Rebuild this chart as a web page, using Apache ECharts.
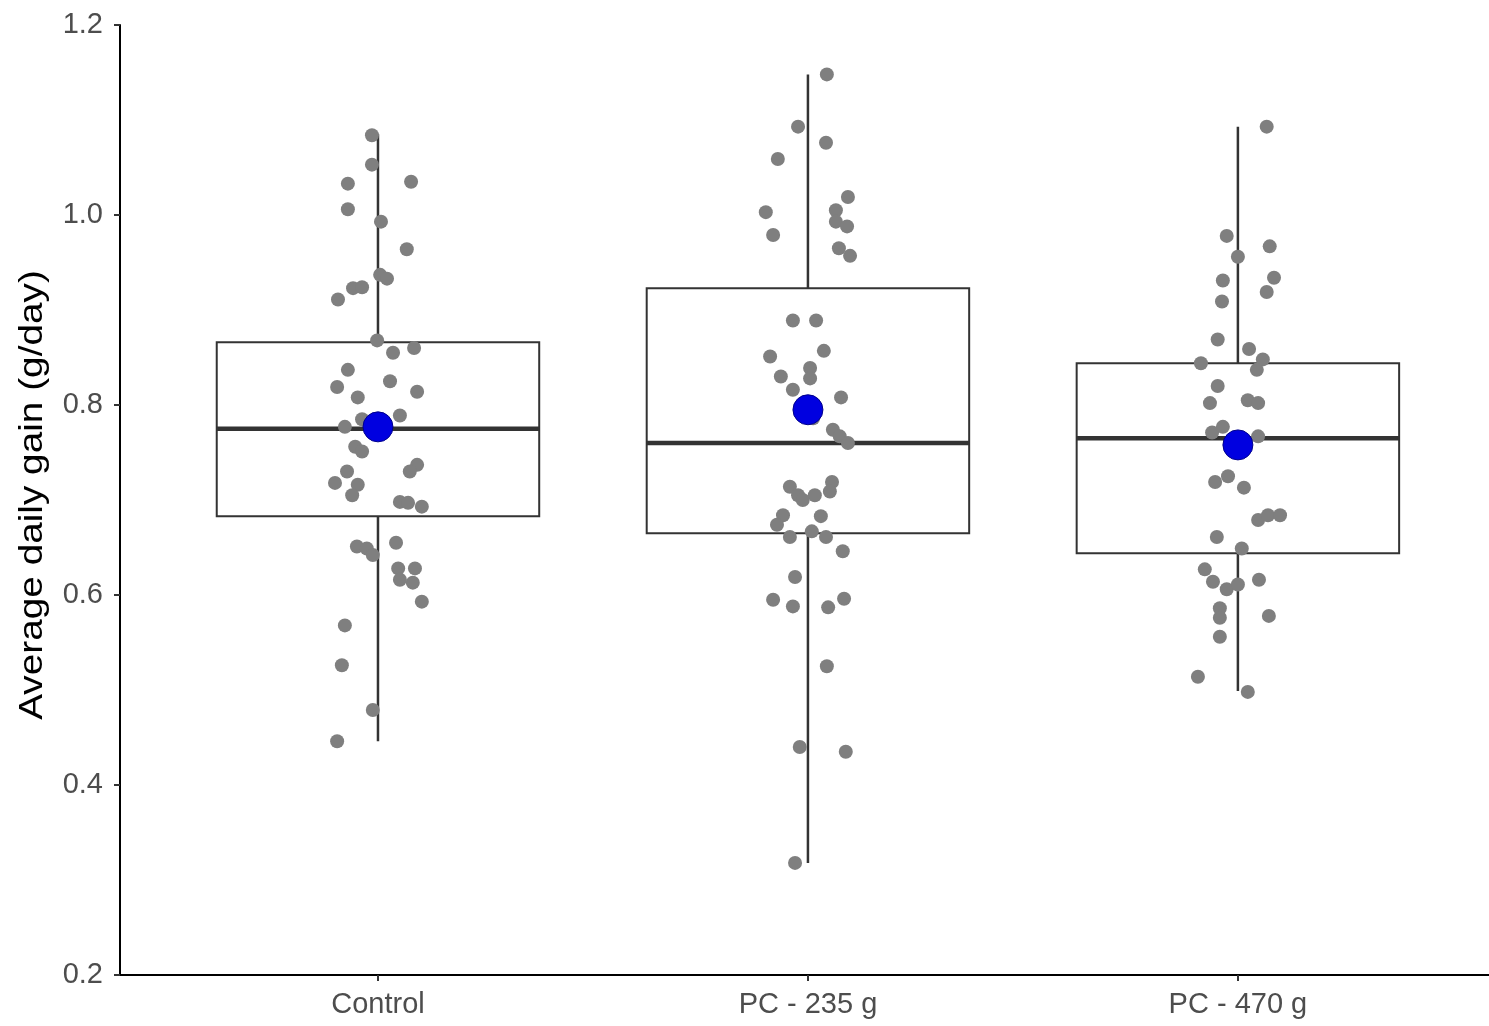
<!DOCTYPE html>
<html>
<head>
<meta charset="utf-8">
<script src="https://cdn.jsdelivr.net/npm/echarts@6/dist/echarts.min.js"></script>
<style>html,body{margin:0;padding:0;background:#fff}#c{width:1489px;height:1026px}</style>
</head>
<body>
<div id="c"></div>
<script>
var categories = ['Control', 'PC - 235 g', 'PC - 470 g'];
var yTicks = [0.2, 0.4, 0.6, 0.8, 1.0, 1.2];
// box stats per group: [min, q1, median, q3, max]
var boxControl = [0.446, 0.683, 0.775, 0.866, 1.085];
var box235 = [0.318, 0.665, 0.760, 0.923, 1.148];
var box470 = [0.499, 0.644, 0.765, 0.844, 1.093];
var means = [0.777, 0.795, 0.758];
// jittered observations: horizontal jitter (category units) and value
var controlJit = [-0.014,-0.014,-0.070,0.077,-0.070,0.007,0.067,0.005,0.021,-0.058,-0.037,-0.093,-0.002,0.035,0.084,-0.070,-0.095,0.028,0.091,-0.047,0.051,-0.037,-0.077,-0.053,-0.037,-0.072,-0.100,-0.047,-0.060,0.091,0.074,0.051,0.070,0.102,-0.049,-0.026,-0.012,0.042,0.047,0.086,0.051,0.081,0.102,-0.077,-0.084,-0.012,-0.095];
var controlVal = [1.084,1.053,1.033,1.035,1.006,0.993,0.964,0.937,0.933,0.923,0.924,0.911,0.868,0.855,0.860,0.837,0.819,0.825,0.814,0.808,0.789,0.785,0.777,0.756,0.751,0.730,0.718,0.716,0.705,0.737,0.730,0.698,0.697,0.693,0.651,0.649,0.642,0.655,0.628,0.628,0.616,0.613,0.593,0.568,0.526,0.479,0.446];
var pc235Jit = [0.044,-0.023,0.042,-0.070,0.093,-0.098,0.065,0.065,0.091,-0.081,0.072,0.098,-0.035,0.019,-0.088,0.037,-0.063,0.005,0.005,-0.035,0.077,0.012,0.058,0.074,0.093,-0.042,-0.023,-0.012,0.016,0.056,0.051,-0.058,-0.072,-0.042,0.030,0.009,0.042,0.081,-0.030,-0.081,-0.035,0.047,0.084,0.044,-0.019,0.088,-0.030];
var pc235Val = [1.148,1.093,1.076,1.059,1.019,1.003,1.005,0.993,0.988,0.979,0.965,0.957,0.889,0.889,0.851,0.857,0.830,0.839,0.828,0.816,0.808,0.786,0.774,0.767,0.760,0.714,0.705,0.700,0.705,0.719,0.709,0.684,0.674,0.661,0.683,0.667,0.661,0.646,0.619,0.595,0.588,0.587,0.596,0.525,0.440,0.435,0.318];
var pc470Jit = [0.067,-0.026,0.074,0.000,-0.035,0.084,0.067,-0.037,-0.047,0.026,-0.086,0.058,0.044,-0.047,-0.065,0.023,0.047,-0.060,-0.035,0.047,-0.053,-0.023,0.014,0.047,0.070,0.098,-0.049,0.009,-0.077,-0.058,-0.026,0.000,0.049,-0.042,-0.042,0.072,-0.042,-0.093,0.023];
var pc470Val = [1.093,0.978,0.967,0.956,0.931,0.934,0.919,0.909,0.869,0.859,0.844,0.848,0.837,0.820,0.802,0.805,0.802,0.771,0.777,0.767,0.719,0.725,0.713,0.679,0.684,0.684,0.661,0.649,0.627,0.614,0.606,0.611,0.616,0.586,0.576,0.578,0.556,0.514,0.498];

var boxes = [boxControl, box235, box470];
var boxData = boxes.map(function (b, i) { return [i + 1].concat(b); });
var jits = [controlJit, pc235Jit, pc470Jit];
var vals = [controlVal, pc235Val, pc470Val];
var pts = [];
jits.forEach(function (j, g) {
  j.forEach(function (d, k) { pts.push([g + 1 + d, vals[g][k]]); });
});
var meanData = means.map(function (m, i) { return [i + 1, m]; });

var chart = echarts.init(document.getElementById('c'), null, {renderer: 'canvas'});
var FONT = 'Liberation Sans, Arial, sans-serif';
chart.setOption({
  animation: false,
  backgroundColor: '#ffffff',
  grid: {left: 120, top: 25, right: 0, height: 950, containLabel: false},
  xAxis: {
    type: 'value', min: 0.4, max: 3.584,
    axisLine: {show: true, lineStyle: {color: '#000', width: 2}},
    axisTick: {show: true, length: 6, customValues: [1, 2, 3], lineStyle: {color: '#333', width: 2}},
    axisLabel: {
      customValues: [1, 2, 3], margin: 15, color: '#4d4d4d', fontSize: 29, fontFamily: FONT,
      formatter: function (v) { return categories[Math.round(v) - 1] || ''; }
    },
    splitLine: {show: false}
  },
  yAxis: {
    type: 'value', min: yTicks[0], max: yTicks[yTicks.length - 1], interval: 0.2,
    axisLine: {show: true, lineStyle: {color: '#000', width: 2}},
    axisTick: {show: true, length: 6, lineStyle: {color: '#333', width: 2}},
    axisLabel: {margin: 17, color: '#4d4d4d', fontSize: 29, fontFamily: FONT,
      formatter: function (v) { return v.toFixed(1); }},
    splitLine: {show: false}
  },
  graphic: [{
    type: 'text', x: 33, y: 495, rotation: Math.PI / 2, scaleX: 1.14,
    style: {text: 'Average daily gain (g/day)', fontSize: 34, fontFamily: FONT, fill: '#000',
      textAlign: 'center', textVerticalAlign: 'middle'}
  }],
  series: [
    {
      type: 'custom', data: boxData, z: 1,
      encode: {x: 0, y: [1, 2, 3, 4, 5]},
      renderItem: function (params, api) {
        var x = api.value(0);
        var pMin = api.coord([x, api.value(1)]);
        var pQ1 = api.coord([x, api.value(2)]);
        var pMed = api.coord([x, api.value(3)]);
        var pQ3 = api.coord([x, api.value(4)]);
        var pMax = api.coord([x, api.value(5)]);
        var w = api.size([0.75, 0])[0];
        var cx = pMed[0];
        return {type: 'group', children: [
          {type: 'line', shape: {x1: cx, y1: pMax[1], x2: cx, y2: pMin[1]}, style: {stroke: '#333', lineWidth: 2.5}},
          {type: 'rect', shape: {x: cx - w / 2, y: pQ3[1], width: w, height: pQ1[1] - pQ3[1]}, style: {fill: '#fff', stroke: '#333', lineWidth: 2}},
          {type: 'line', shape: {x1: cx - w / 2, y1: pMed[1], x2: cx + w / 2, y2: pMed[1]}, style: {stroke: '#333', lineWidth: 4.5}}
        ]};
      }
    },
    {
      type: 'scatter', data: pts, z: 2, symbol: 'circle', symbolSize: 14,
      itemStyle: {color: '#7f7f7f', opacity: 1}
    },
    {
      type: 'scatter', data: meanData, z: 3, symbol: 'circle', symbolSize: 30,
      itemStyle: {color: '#0000e0', borderColor: '#00008b', borderWidth: 1, opacity: 1}
    }
  ]
});
</script>
</body>
</html>
